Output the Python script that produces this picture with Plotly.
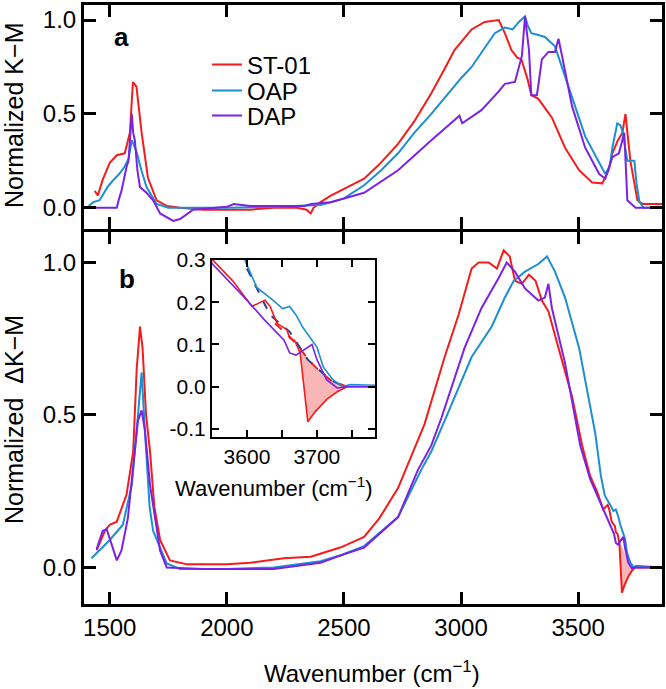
import plotly.graph_objects as go

# ---------------- data: panel a (normalized K-M) ----------------
a_st01_wn = [1436, 1449, 1470, 1500, 1530, 1564, 1586, 1599, 1614, 1636, 1663, 1700, 1743, 1800, 1900, 2000,
             2100, 2200, 2300, 2340, 2358, 2370, 2400, 2444, 2500, 2586, 2650, 2731, 2800, 2873, 2930, 2972,
             3045, 3101, 3161, 3187, 3215, 3240, 3258, 3285, 3300, 3330, 3388, 3444, 3504, 3560, 3603, 3630,
             3646, 3670, 3689, 3702, 3712, 3723, 3753, 3775, 3860]
a_st01 = [0.09, 0.065, 0.15, 0.24, 0.28, 0.29, 0.40, 0.67, 0.645, 0.40, 0.16, 0.04, 0.01, 0.0, -0.01, -0.01,
          -0.01, 0.0, 0.0, -0.01, -0.03, 0.0, 0.03, 0.065, 0.10, 0.155, 0.23, 0.34, 0.46, 0.61, 0.74, 0.84,
          0.95, 0.99, 1.0, 0.93, 0.84, 0.80, 0.79, 0.68, 0.60, 0.58, 0.48, 0.32, 0.20, 0.135, 0.13, 0.20,
          0.29, 0.36, 0.40, 0.50, 0.38, 0.25, 0.04, 0.02, 0.02]

a_oap_wn = [1410, 1430, 1457, 1490, 1513, 1540, 1564, 1580, 1594, 1600, 1614, 1635, 1657, 1700, 1750, 1850,
            2000, 2200, 2400, 2444, 2500, 2586, 2659, 2731, 2801, 2873, 2946, 3000, 3045, 3100, 3144, 3187,
            3220, 3247, 3273, 3285, 3300, 3330, 3358, 3401, 3431, 3474, 3530, 3590, 3616, 3635, 3646, 3667,
            3680, 3689, 3700, 3710, 3725, 3740, 3750, 3762, 3780, 3860]
a_oap = [0.01, 0.03, 0.04, 0.11, 0.145, 0.18, 0.22, 0.26, 0.36, 0.34, 0.30, 0.20, 0.11, 0.02, 0.0, 0.0,
         0.0, 0.005, 0.015, 0.03, 0.05, 0.12, 0.20, 0.29, 0.40, 0.50, 0.61, 0.69, 0.75, 0.85, 0.93, 0.96,
         0.95, 0.99, 1.02, 0.97, 0.93, 0.92, 0.91, 0.86, 0.75, 0.59, 0.38, 0.24, 0.18, 0.22, 0.32, 0.45,
         0.44, 0.41, 0.33, 0.25, 0.25, 0.25, 0.12, 0.03, 0.0, 0.0]

a_dap_wn = [1406, 1450, 1530, 1540, 1550, 1572, 1580, 1594, 1600, 1607, 1618, 1629, 1657, 1685, 1715, 1771,
            1800, 1856, 1950, 2000, 2029, 2100, 2200, 2330, 2360, 2444, 2586, 2731, 2873, 2993, 3005, 3087,
            3161, 3187, 3230, 3260, 3273, 3290, 3300, 3324, 3345, 3373, 3401, 3416, 3431, 3474, 3530, 3590,
            3616, 3646, 3674, 3697, 3710, 3745, 3860]
a_dap = [0.0, 0.0, 0.0, 0.05, 0.09, 0.22, 0.25, 0.50, 0.40, 0.36, 0.20, 0.11, 0.08, 0.04, -0.03, -0.07,
         -0.06, -0.01, 0.0, 0.005, 0.02, 0.01, 0.01, 0.01, 0.02, 0.03, 0.08, 0.20, 0.36, 0.49, 0.45, 0.52,
         0.62, 0.66, 0.67, 0.81, 1.02, 0.84, 0.60, 0.60, 0.79, 0.83, 0.83, 0.90, 0.81, 0.54, 0.32, 0.18,
         0.155, 0.27, 0.29, 0.40, 0.04, 0.0, 0.0]

# ---------------- data: panel b (normalized delta K-M) ----------------
b_st01_wn = [1444, 1479, 1500, 1530, 1572, 1600, 1615, 1629, 1640, 1655, 1672, 1690, 1715, 1757, 1830, 2000,
             2100, 2243, 2358, 2400, 2487, 2586, 2650, 2731, 2796, 2844, 2930, 2990, 3045, 3075, 3118, 3153,
             3182, 3208, 3230, 3260, 3290, 3318, 3345, 3373, 3416, 3474, 3517, 3551, 3580, 3607, 3626, 3633,
             3643, 3657, 3661, 3668, 3676, 3687, 3697, 3714, 3729, 3743, 3860]
b_st01 = [0.056, 0.12, 0.14, 0.15, 0.24, 0.38, 0.65, 0.79, 0.72, 0.50, 0.38, 0.20, 0.09, 0.023, 0.01, 0.01,
          0.015, 0.03, 0.035, 0.045, 0.066, 0.10, 0.16, 0.26, 0.38, 0.47, 0.69, 0.83, 0.98, 1.0, 1.0, 0.98,
          1.04, 1.02, 0.94, 0.93, 0.96, 0.94, 0.875, 0.84, 0.72, 0.56, 0.40, 0.30, 0.25, 0.19, 0.205, 0.19,
          0.15, 0.135, 0.115, 0.11, 0.08, -0.083, -0.06, -0.03, -0.012, 0.0, 0.0]

b_oap_wn = [1422, 1457, 1500, 1556, 1594, 1615, 1636, 1650, 1670, 1685, 1743, 1800, 2000, 2200, 2400, 2444,
            2487, 2586, 2731, 2830, 2873, 2946, 3045, 3131, 3187, 3225, 3273, 3330, 3367, 3401, 3444, 3504,
            3545, 3573, 3597, 3614, 3637, 3651, 3661, 3670, 3680, 3690, 3700, 3709, 3723, 3737, 3747, 3860]
b_oap = [0.03, 0.056, 0.09, 0.14, 0.27, 0.45, 0.64, 0.45, 0.20, 0.12, 0.013, -0.005, -0.005, 0.0, 0.02, 0.03,
         0.04, 0.07, 0.165, 0.32, 0.38, 0.51, 0.69, 0.79, 0.885, 0.94, 0.97, 0.995, 1.02, 0.97, 0.885, 0.72,
         0.56, 0.44, 0.30, 0.235, 0.205, 0.185, 0.19, 0.17, 0.14, 0.118, 0.094, 0.047, 0.016, 0.0, 0.005, 0.0]

b_dap_wn = [1444, 1470, 1487, 1510, 1530, 1550, 1577, 1600, 1620, 1636, 1650, 1672, 1715, 1743, 1900, 2200,
            2400, 2487, 2586, 2731, 2816, 2873, 2916, 3015, 3087, 3161, 3195, 3230, 3273, 3330, 3358, 3373,
            3388, 3444, 3509, 3551, 3600, 3624, 3653, 3661, 3670, 3680, 3693, 3700, 3714, 3729, 3743, 3860]
b_dap = [0.06, 0.12, 0.125, 0.07, 0.023, 0.056, 0.16, 0.33, 0.48, 0.515, 0.45, 0.27, 0.055, 0.0, -0.005, -0.005,
         0.015, 0.04, 0.065, 0.165, 0.32, 0.40, 0.49, 0.72, 0.85, 0.95, 1.0, 0.97, 0.915, 0.875, 0.885, 0.93,
         0.85, 0.67, 0.40, 0.29, 0.205, 0.16, 0.11, 0.08, 0.075, 0.086, 0.10, 0.064, 0.016, -0.003, 0.0, 0.0]

# baselines (dashed, inset) and shaded negative band
base_oap_wn = [3600, 3633, 3661, 3687, 3719, 3740]
base_oap = [0.28, 0.17, 0.13, 0.064, 0.016, 0.0]
base_st01_wn = [3640, 3660, 3676, 3690, 3705, 3720, 3743]
base_st01 = [0.15, 0.12, 0.09, 0.06, 0.035, 0.015, 0.0]
fill_wn = [3676, 3687, 3697, 3714, 3729, 3743]
fill_top = [0.09, 0.064, 0.048, 0.022, 0.007, 0.0]
fill_bottom = [0.08, -0.083, -0.06, -0.03, -0.012, 0.0]

names = ["ST-01", "OAP", "DAP"]
colors = ["#f41c1c", "#1b8fd2", "#7a22e6"]
legend_ids = ["legend", "legend2", "legend3"]

a_x = [a_st01_wn, a_oap_wn, a_dap_wn]
a_y = [a_st01, a_oap, a_dap]
b_x = [b_st01_wn, b_oap_wn, b_dap_wn]
b_y = [b_st01, b_oap, b_dap]

FONT = "Liberation Sans, Arial, sans-serif"
W, H = 666, 689


def px(x):
    return x / W


def py(y):
    return 1 - y / H


fig = go.Figure()

# panel a
for n, c, xs, ys, lg in zip(names, colors, a_x, a_y, legend_ids):
    fig.add_trace(go.Scatter(x=xs, y=ys, mode="lines", name=n, line=dict(color=c, width=2),
                             xaxis="x", yaxis="y", showlegend=True, legend=lg))

# panel b + inset: shaded band
for xa, ya in (("x2", "y2"), ("x3", "y3")):
    fig.add_trace(go.Scatter(x=fill_wn, y=fill_top, mode="lines", line=dict(width=0, color="rgba(0,0,0,0)"),
                             xaxis=xa, yaxis=ya, showlegend=False, hoverinfo="skip"))
    fig.add_trace(go.Scatter(x=fill_wn, y=fill_bottom, mode="lines", line=dict(width=0, color="rgba(0,0,0,0)"),
                             fill="tonexty", fillcolor="rgba(244,110,110,0.5)",
                             xaxis=xa, yaxis=ya, showlegend=False, hoverinfo="skip"))

for n, c, xs, ys in zip(names, colors, b_x, b_y):
    fig.add_trace(go.Scatter(x=xs, y=ys, mode="lines", name=n, line=dict(color=c, width=2),
                             xaxis="x2", yaxis="y2", showlegend=False))

# inset
fig.add_trace(go.Scatter(x=base_oap_wn, y=base_oap, mode="lines", line=dict(color="#2a3d8f", width=2, dash="dash"),
                         xaxis="x3", yaxis="y3", showlegend=False))
fig.add_trace(go.Scatter(x=base_st01_wn, y=base_st01, mode="lines", line=dict(color="#f41c1c", width=2, dash="dash"),
                         xaxis="x3", yaxis="y3", showlegend=False))
for n, c, xs, ys in zip(names, colors, b_x, b_y):
    fig.add_trace(go.Scatter(x=xs, y=ys, mode="lines", name=n, line=dict(color=c, width=1.6),
                             xaxis="x3", yaxis="y3", showlegend=False))

main_x = dict(range=[1390, 3858], tickvals=[1500, 2000, 2500, 3000, 3500], showline=True, linecolor="black",
              linewidth=3, mirror="ticks", ticks="inside", ticklen=12, tickwidth=3, tickcolor="black",
              showgrid=False, zeroline=False, automargin=False,
              tickfont=dict(size=24, color="black", family=FONT))
main_y = dict(showline=True, linecolor="black", linewidth=3, mirror="ticks", ticks="inside", ticklen=12,
              tickwidth=3, tickcolor="black", showgrid=False, zeroline=False, tickvals=[0, 0.5, 1.0],
              ticktext=["0.0", "0.5", "1.0"], automargin=False,
              tickfont=dict(size=24, color="black", family=FONT))
inset_common = dict(showline=True, linecolor="black", linewidth=2, mirror="ticks", ticks="inside", ticklen=7,
                    tickwidth=2, tickcolor="black", showgrid=False, zeroline=False, automargin=False,
                    tickfont=dict(size=21, color="black", family=FONT))

leg_common = dict(xanchor="left", yanchor="middle", bgcolor="rgba(0,0,0,0)",
                  font=dict(size=24, color="black", family=FONT), borderwidth=0)

fig.update_layout(
    template="none",
    width=W, height=H,
    margin=dict(l=0, r=0, t=0, b=0, pad=0, autoexpand=False),
    paper_bgcolor="white", plot_bgcolor="white",
    font=dict(family=FONT, color="black"),
    xaxis=dict(main_x, domain=[px(84), px(662)], anchor="y", showticklabels=False),
    yaxis=dict(main_y, domain=[py(229), py(5)], anchor="x", range=[-0.113, 1.08]),
    xaxis2=dict(main_x, domain=[px(84), px(662)], anchor="y2"),
    yaxis2=dict(main_y, domain=[py(604), py(232)], anchor="x2", range=[-0.12, 1.1]),
    xaxis3=dict(inset_common, domain=[px(212), px(375)], anchor="y3", range=[3550, 3783],
                tickvals=[3600, 3700], ticktext=["3600", "3700"],
                minor=dict(tickmode="array", tickvals=[3650, 3750], ticks="inside", ticklen=7,
                           tickwidth=2, tickcolor="black", showgrid=False)),
    yaxis3=dict(inset_common, domain=[py(437), py(260)], anchor="x3", range=[-0.119, 0.3],
                tickvals=[-0.1, 0.0, 0.1, 0.2, 0.3], ticktext=["-0.1", "0.0", "0.1", "0.2", "0.3"]),
    legend=dict(leg_common, x=px(207), y=py(65)),
    legend2=dict(leg_common, x=px(207), y=py(91)),
    legend3=dict(leg_common, x=px(207), y=py(116)),
    showlegend=True,
)

ann_common = dict(xref="paper", yref="paper", showarrow=False, xanchor="center", yanchor="middle")
fig.add_annotation(ann_common, text="Normalized K\u2212M", x=px(14), y=py(116), textangle=-90,
                   font=dict(size=25, color="black", family=FONT))
fig.add_annotation(ann_common, text="Normalized  \u0394K\u2212M", x=px(14), y=py(420), textangle=-90,
                   font=dict(size=25, color="black", family=FONT))
fig.add_annotation(ann_common, text="Wavenumber (cm<sup>\u22121</sup>)", x=px(372), y=py(672),
                   font=dict(size=24, color="black", family=FONT))
fig.add_annotation(ann_common, text="Wavenumber (cm<sup>\u22121</sup>)", x=px(274), y=py(487),
                   font=dict(size=22, color="black", family=FONT))
fig.add_annotation(ann_common, text="<b>a</b>", x=px(121), y=py(37),
                   font=dict(size=26, color="black", family=FONT))
fig.add_annotation(ann_common, text="<b>b</b>", x=px(127), y=py(279),
                   font=dict(size=26, color="black", family=FONT))

fig.write_html("out.html", config={"displayModeBar": False},
               post_script="document.body.style.margin='0';document.body.style.overflow='hidden';")
